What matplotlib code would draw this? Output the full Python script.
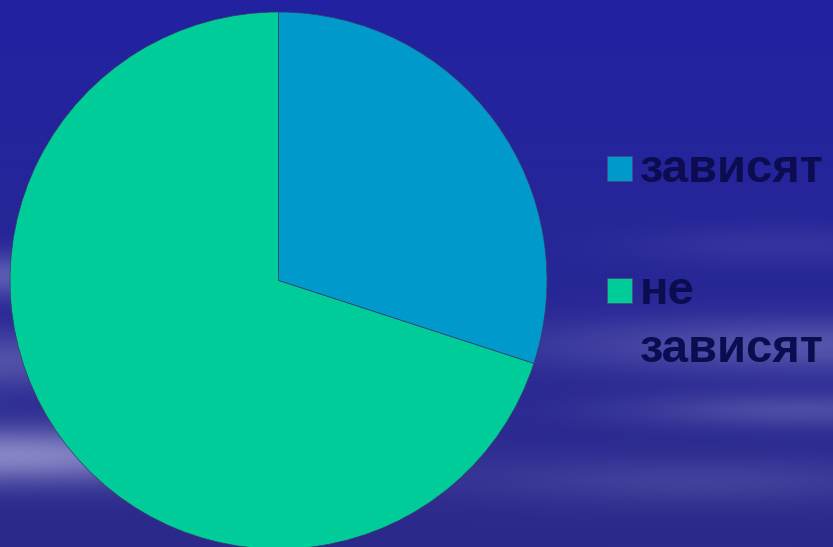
import numpy as np
import matplotlib
matplotlib.use("Agg")
import matplotlib.pyplot as plt
from matplotlib.patches import Rectangle

categories = ["зависят", "не зависят"]
label_lines = [["зависят"], ["не", "зависят"]]
values = [30, 70]
colors = ["#0099cc", "#00cc99"]

W, H = 833, 547
fig = plt.figure(figsize=(W / 100, H / 100), dpi=100)
ax = fig.add_axes([0, 0, 1, 1])

# background: dark blue sky with soft light horizontal cloud streaks
yy, xx = np.mgrid[0:H, 0:W].astype(float)
base_top = np.array([0x22, 0x22, 0xa2]) / 255
base_bot = np.array([0x2c, 0x2a, 0x8a]) / 255
t = (yy / H)[..., None]
img = base_top * (1 - t) + base_bot * t
light = np.array([0x9c, 0x9c, 0xd4]) / 255

def streak(cx, cy, sx, sy, amp):
    return amp * np.exp(-((xx - cx) / sx) ** 2 - ((yy - cy) / sy) ** 2)

L = (streak(0, 455, 260, 28, 0.8) + streak(0, 275, 80, 22, 0.45)
     + streak(0, 360, 150, 30, 0.35)
     + streak(820, 345, 280, 28, 0.38) + streak(800, 410, 180, 18, 0.3)
     + streak(700, 480, 250, 25, 0.2) + streak(780, 245, 150, 20, 0.12))
L = np.clip(L, 0, 1)[..., None]
img = img * (1 - L) + light * L
ax.imshow(img, extent=(0, W, 0, H), origin="upper", zorder=0, interpolation="bilinear")

cx, cy, r = 278.5, H - 280.5, 268.5
ax.pie(values, colors=colors, startangle=90, counterclock=False,
       center=(cx, cy), radius=r, frame=True,
       wedgeprops=dict(edgecolor="#3a3a6a", linewidth=0.5))
ax.set_xlim(0, W)
ax.set_ylim(0, H)
ax.set_aspect("equal")
ax.axis("off")

text_color = "#0c0c50"
font = dict(family="Liberation Sans", weight="bold", size=34, color=text_color)
entries_y = [168.5, 290.5]  # square centers (px from top)
line_step = 57
for lines, col, ym in zip(label_lines, colors, entries_y):
    ax.add_patch(Rectangle((607, H - ym - 12.5), 25, 25, facecolor=col,
                           edgecolor="#4a4a7a", linewidth=0.5, zorder=3))
    for i, ln in enumerate(lines):
        ax.text(640, H - (ym + 14 + i * line_step), ln, va="baseline", ha="left",
                zorder=3, **font)

fig.savefig("out.png", dpi=100)
